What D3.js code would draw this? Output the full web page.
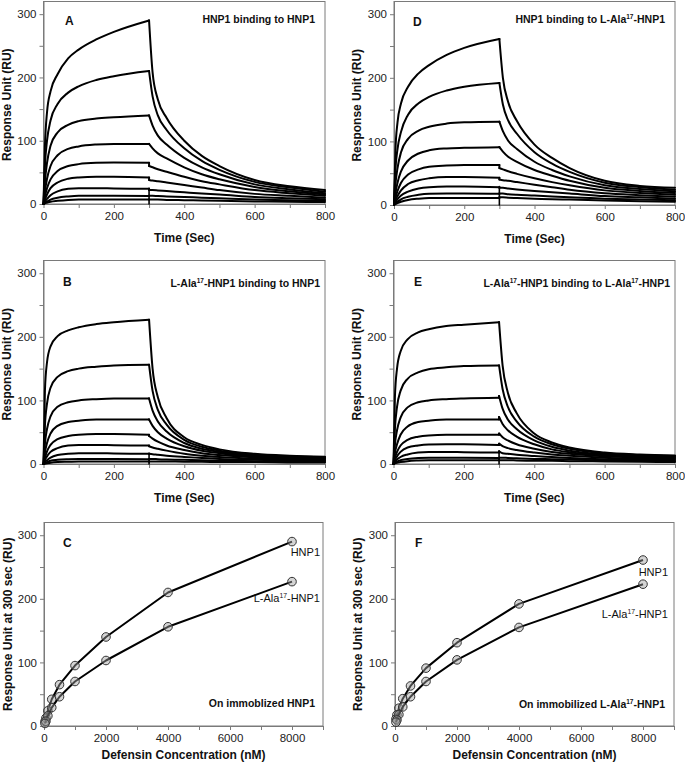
<!DOCTYPE html>
<html>
<head>
<meta charset="utf-8">
<script src="https://cdn.jsdelivr.net/npm/d3@7"></script>
<style>
  html, body { margin: 0; padding: 0; background: #fff; }
  svg { display: block; font-family: "Liberation Sans", Arial, Helvetica, sans-serif; }
</style>
</head>
<body>
<svg id="chart" width="685" height="768"></svg>
<script>
// ---------------- DATA ----------------
// Analyte concentrations (nM), one per sensorgram curve (top curve first)
const concentrations = [8000, 4000, 2000, 1000, 500, 250, 125, 62.5, 31.25];

// Sampling times (s) for association (injection) and dissociation phases
const assocTime  = [0, 4, 10, 20, 40, 70, 100, 150, 200, 300];
const dissocTime = [300, 310, 325, 350, 400, 450, 500, 600, 700, 800];

// Panel A: HNP1 binding to HNP1
const assocA = [
  [0, 90, 145, 178, 205, 230, 244, 260, 272, 290],
  [0, 60, 100, 132, 158, 176, 186, 196, 202, 210],
  [0, 35, 65, 92, 113, 125, 131, 135, 137, 140],
  [0, 20, 40, 60, 77, 87, 91, 94, 95, 95],
  [0, 12, 25, 39, 52, 60, 63, 65, 65.5, 65],
  [0, 7, 15, 25, 34, 40, 42, 43, 43, 42],
  [0, 4, 8, 14, 20, 24, 25, 25, 24.5, 24],
  [0, 2, 4, 7, 10, 12, 13, 13, 13, 12.5],
  [0, 1, 2, 3.5, 5, 6.5, 7, 7, 7, 7]
];
const dissocA = [
  [290, 208, 165, 136, 100, 76, 60, 38, 28, 22],
  [210, 170, 140, 117, 88, 68, 54, 35, 26, 19.5],
  [140, 124, 108, 94, 73, 58, 47, 31, 23, 17],
  [95, 88, 80, 72, 58, 47, 39, 27, 20, 15],
  [60, 58, 55, 51, 43, 36, 31, 22, 17, 13],
  [38, 37, 36, 34, 30, 26, 22, 16, 13, 10],
  [22, 22, 21.5, 20.5, 18.5, 16.5, 15, 11, 9, 7.5],
  [13, 13, 12.5, 12, 11, 10, 9, 7, 6, 5],
  [7, 7, 7, 6.5, 6, 5.5, 5, 4, 3.5, 3]
];

// Panel B: L-Ala17-HNP1 binding to HNP1
const assocB = [
  [0, 115, 160, 185, 201, 210, 215, 220, 223, 227],
  [0, 60, 95, 120, 137, 146, 150, 153, 155, 156],
  [0, 32, 55, 75, 90, 97, 100, 102, 103, 103],
  [0, 18, 33, 48, 60, 66, 68, 70, 70, 70],
  [0, 10, 20, 30, 39, 44, 46, 47, 47, 46],
  [0, 6, 12, 19, 25, 29, 30, 30, 29.5, 29],
  [0, 3, 6, 10, 14, 16, 17, 17, 16.5, 16],
  [0, 1.5, 3, 5, 6.5, 7.5, 8, 8, 8, 7.5],
  [0, 0.5, 1, 2, 3, 3.5, 4, 4, 4, 4]
];
const dissocB = [
  [227, 150, 105, 72, 42, 30, 23, 16, 13, 11.5],
  [156, 115, 85, 62, 38, 27, 21, 15, 12, 10.5],
  [103, 84, 67, 51, 33, 24, 19, 13.5, 11, 9.5],
  [70, 60, 50, 40, 28, 21, 17, 12, 10, 8.5],
  [44, 40, 35, 29, 22, 17, 14, 10.5, 8.5, 7.5],
  [28, 26, 24, 21, 16, 13, 11, 8.5, 7, 6],
  [16, 15.5, 14.5, 13, 11, 9.5, 8, 6.5, 5.5, 5],
  [8, 8, 7.5, 7, 6.5, 6, 5, 4.5, 4, 3.5],
  [4, 4, 4, 4, 3.5, 3.5, 3, 3, 2.5, 2.5]
];

// Panel D: HNP1 binding to L-Ala17-HNP1
const assocD = [
  [0, 85, 130, 160, 186, 207, 220, 236, 247, 261],
  [0, 55, 88, 115, 142, 160, 170, 180, 186, 192],
  [0, 32, 58, 83, 104, 117, 123, 128, 130, 131],
  [0, 18, 35, 53, 70, 81, 86, 89, 90, 91],
  [0, 11, 22, 35, 48, 56, 60, 62, 63, 63],
  [0, 7, 14, 23, 33, 39, 42, 44, 44, 43],
  [0, 4, 9, 15, 21, 26, 28, 29, 29, 28],
  [0, 2.5, 5, 9, 13, 16, 17.5, 18, 18, 17.5],
  [0, 1.5, 3, 5, 8, 10, 11, 11, 11, 11]
];
const dissocD = [
  [261, 200, 162, 132, 95, 74, 58, 38, 30, 27],
  [192, 158, 133, 112, 83, 65, 52, 35, 28, 24],
  [131, 116, 101, 88, 68, 55, 45, 31, 25, 21.5],
  [91, 84, 76, 68, 55, 46, 38, 27, 22, 19],
  [58, 56, 53, 49, 42, 36, 31, 23, 19, 16],
  [40, 39, 38, 36, 32, 28, 24, 18.5, 15.5, 13],
  [27, 27, 26, 24.5, 22, 20, 18, 14, 12, 10],
  [18, 18, 17, 16, 15, 13.5, 12, 10, 8.5, 7.5],
  [12, 12, 11.5, 11, 10, 9, 8.5, 7, 6, 5]
];

// Panel E: L-Ala17-HNP1 binding to L-Ala17-HNP1
const assocE = [
  [0, 105, 150, 177, 196, 207, 212, 217, 219, 223],
  [0, 55, 90, 115, 134, 144, 149, 152, 154, 155],
  [0, 30, 53, 73, 89, 97, 100, 102, 103, 104],
  [0, 17, 31, 46, 59, 66, 68, 70, 70, 70],
  [0, 10, 19, 29, 38, 43, 45, 46, 46, 46],
  [0, 6, 12, 19, 26, 29, 30.5, 31, 31, 30],
  [0, 3.5, 7, 11, 15, 18, 19, 19, 18.5, 18],
  [0, 2, 3.5, 6, 8, 9.5, 10, 10, 10, 9.5],
  [0, 1, 2, 3, 4.5, 5.5, 6, 6, 6, 6]
];
const dissocE = [
  [223, 155, 112, 80, 48, 34, 26, 18, 15, 13.5],
  [155, 118, 90, 67, 43, 31, 24, 17, 14, 12.5],
  [107, 87, 70, 55, 37, 27, 21, 15.5, 13, 11.5],
  [74, 63, 53, 43, 31, 23, 18.5, 14, 11.5, 10],
  [48, 42, 37, 31, 24, 19, 16, 12, 10, 8.5],
  [32, 28, 25, 22, 18, 15, 13, 10, 8.5, 7],
  [20, 17, 16, 14.5, 12.5, 11, 9.5, 7.5, 6.5, 5.5],
  [10, 10, 9.5, 9, 8, 7.5, 7, 5.5, 5, 4],
  [6, 6, 6, 5.5, 5, 5, 4.5, 4, 3.5, 3]
];

// Injection-end artefact at t = 300 s (vertical spike, RU from 0 to top)
const spikeTop = { A: 25, B: 17, D: 29, E: 20 };

// Tick values
const timeTicks = d3.range(0, 801, 100);       // labelled every 200
const ruTicks = d3.range(0, 301, 50);          // labelled every 100
const concTicks = d3.range(0, 9001, 1000);     // labelled every 2000

// ---------------- LAYOUT ----------------
const svg = d3.select("#chart");
const FONT = '"Liberation Sans", Arial, Helvetica, sans-serif';
const frameColor = "#7a7a7a";

const panels = [
  { id: "A", kind: "sg", assoc: assocA, dissoc: dissocA, left: 43.5, right: 325, top: 1.5, bottom: 204,
    title: [["HNP1 binding to HNP1"]], titleRight: 315, titleBase: 23, letterX: 65, letterBase: 25, yTitleX: 11 },
  { id: "D", kind: "sg", assoc: assocD, dissoc: dissocD, left: 394, right: 675, top: 1.5, bottom: 205,
    title: [["HNP1 binding to L-Ala"], ["17", true], ["-HNP1"]], titleRight: 665, titleBase: 23, letterX: 413, letterBase: 26, yTitleX: 361 },
  { id: "B", kind: "sg", assoc: assocB, dissoc: dissocB, left: 43.5, right: 325, top: 260.5, bottom: 464,
    title: [["L-Ala"], ["17", true], ["-HNP1 binding to HNP1"]], titleRight: 320, titleBase: 287, letterX: 63, letterBase: 286, yTitleX: 11 },
  { id: "E", kind: "sg", assoc: assocE, dissoc: dissocE, left: 393.5, right: 675, top: 260.5, bottom: 464,
    title: [["L-Ala"], ["17", true], ["-HNP1 binding to L-Ala"], ["17", true], ["-HNP1"]], titleRight: 670, titleBase: 287, letterX: 414, letterBase: 286, yTitleX: 361 },
  { id: "C", kind: "conc", src: [assocA, assocB], left: 44, right: 323, top: 522.5, bottom: 726,
    title: [["On immoblized HNP1"]], titleRight: 315, titleBase: 707, letterX: 63, letterBase: 547, yTitleX: 12,
    labels: [{ parts: [["HNP1"]], right: 320, base: 556 }, { parts: [["L-Ala"], ["17", true], ["-HNP1"]], right: 320, base: 602 }] },
  { id: "F", kind: "conc", src: [assocD, assocE], left: 395, right: 674, top: 522.5, bottom: 726,
    title: [["On immobilized L-Ala"], ["17", true], ["-HNP1"]], titleRight: 665, titleBase: 708, letterX: 415, letterBase: 547, yTitleX: 362,
    labels: [{ parts: [["HNP1"]], right: 668, base: 576 }, { parts: [["L-Ala"], ["17", true], ["-HNP1"]], right: 668, base: 618 }] }
];

function richText(g, parts, x, y, opts) {
  const t = g.append("text").attr("x", x).attr("y", y)
    .attr("text-anchor", opts.anchor || "start")
    .attr("font-size", opts.size).attr("font-weight", opts.weight || "normal")
    .attr("fill", "#111").attr("font-family", FONT);
  let sup = false;
  parts.forEach(([s, isSup]) => {
    const ts = t.append("tspan").text(s);
    if (isSup && !sup) { ts.attr("dy", -opts.size * 0.38).attr("font-size", opts.size * 0.62); sup = true; }
    else if (!isSup && sup) { ts.attr("dy", opts.size * 0.38); sup = false; }
  });
  return t;
}

panels.forEach(p => {
  const g = svg.append("g");
  const xDomain = p.kind === "sg" ? [0, 800] : [0, 9000];
  const x = d3.scaleLinear().domain(xDomain).range([p.left, p.right]);
  const y = d3.scaleLinear().domain([0, 320]).range([p.bottom, p.top]);

  // frame
  g.append("rect").attr("x", p.left).attr("y", p.top)
    .attr("width", p.right - p.left).attr("height", p.bottom - p.top)
    .attr("fill", "none").attr("stroke", frameColor).attr("stroke-width", 1);

  // axes
  const xt = p.kind === "sg" ? timeTicks : concTicks;
  const xLab = p.kind === "sg" ? 200 : 2000;
  const xAxis = d3.axisBottom(x).tickValues(xt).tickSize(4).tickSizeOuter(0).tickPadding(4)
    .tickFormat(d => d % xLab === 0 ? d : "");
  const yAxis = d3.axisLeft(y).tickValues(ruTicks).tickSize(4).tickSizeOuter(0).tickPadding(3)
    .tickFormat(d => d % 100 === 0 ? d : "");
  const gx = g.append("g").attr("transform", `translate(0,${p.bottom})`).call(xAxis);
  const gy = g.append("g").attr("transform", `translate(${p.left},0)`).call(yAxis);
  [gx, gy].forEach(a => {
    a.select(".domain").attr("stroke", frameColor);
    a.selectAll(".tick line").attr("stroke", frameColor);
    a.selectAll(".tick text").attr("font-size", 11.5).attr("font-family", FONT).attr("fill", "#222");
  });

  const plot = g.append("g");
  if (p.kind === "sg") {
    const line = d3.line().x(d => x(d[0])).y(d => y(d[1])).curve(d3.curveMonotoneX);
    const lin = d3.line().x(d => x(d[0])).y(d => y(d[1]));
    const style = s => s.attr("fill", "none").attr("stroke", "#000").attr("stroke-width", 2)
      .attr("stroke-linejoin", "round").attr("stroke-linecap", "round");
    // spike at end of injection
    plot.append("path").datum([[300, 0], [300, spikeTop[p.id]]]).attr("d", lin).call(style).attr("stroke-width", 1.6);
    p.assoc.forEach((vals, i) => {
      const a = assocTime.map((t, j) => [t, vals[j]]);
      const dv = p.dissoc[i];
      const d = dissocTime.map((t, j) => [t, dv[j]]);
      plot.append("path").datum(a).attr("d", line).call(style);
      plot.append("path").datum([a[a.length - 1], d[0]]).attr("d", lin).call(style);
      plot.append("path").datum(d).attr("d", line).call(style);
    });
  } else {
    const lin = d3.line().x(d => x(d[0])).y(d => y(d[1]));
    p.src.forEach(set => {
      const pts = concentrations.map((c, i) => [c, set[i][set[i].length - 1]]);
      plot.append("path").datum(pts).attr("d", lin)
        .attr("fill", "none").attr("stroke", "#000").attr("stroke-width", 2).attr("stroke-linejoin", "round");
      plot.selectAll(null).data(pts).enter().append("circle")
        .attr("cx", d => x(d[0])).attr("cy", d => y(d[1])).attr("r", 4.3)
        .attr("fill", "rgba(160,160,160,0.45)").attr("stroke", "#333").attr("stroke-width", 1);
    });
    p.labels.forEach(l => richText(g, l.parts, l.right, l.base, { size: 11, anchor: "end" }));
  }

  // panel letter and title
  g.append("text").attr("x", p.letterX).attr("y", p.letterBase).text(p.id)
    .attr("font-size", 12).attr("font-weight", "bold").attr("font-family", FONT).attr("fill", "#111");
  richText(g, p.title, p.titleRight, p.titleBase, { size: 10.5, weight: "bold", anchor: "end" });

  // axis titles
  const xTitle = p.kind === "sg" ? "Time (Sec)" : "Defensin Concentration (nM)";
  const xBase = p.kind === "sg" ? p.bottom + 38 : p.bottom + 33;
  g.append("text").attr("x", (p.left + p.right) / 2).attr("y", xBase).attr("text-anchor", "middle")
    .attr("font-size", 12).attr("font-weight", "bold").attr("font-family", FONT).attr("fill", "#111").text(xTitle);
  const yTitle = p.kind === "sg" ? "Response Unit (RU)" : "Response Unit at 300 sec (RU)";
  const cy = (p.top + p.bottom) / 2 + (p.kind === "sg" ? 2 : 0);
  g.append("text").attr("transform", `translate(${p.yTitleX},${cy}) rotate(-90)`).attr("text-anchor", "middle")
    .attr("font-size", 12).attr("font-weight", "bold").attr("font-family", FONT).attr("fill", "#111").text(yTitle);
});
</script>
</body>
</html>
